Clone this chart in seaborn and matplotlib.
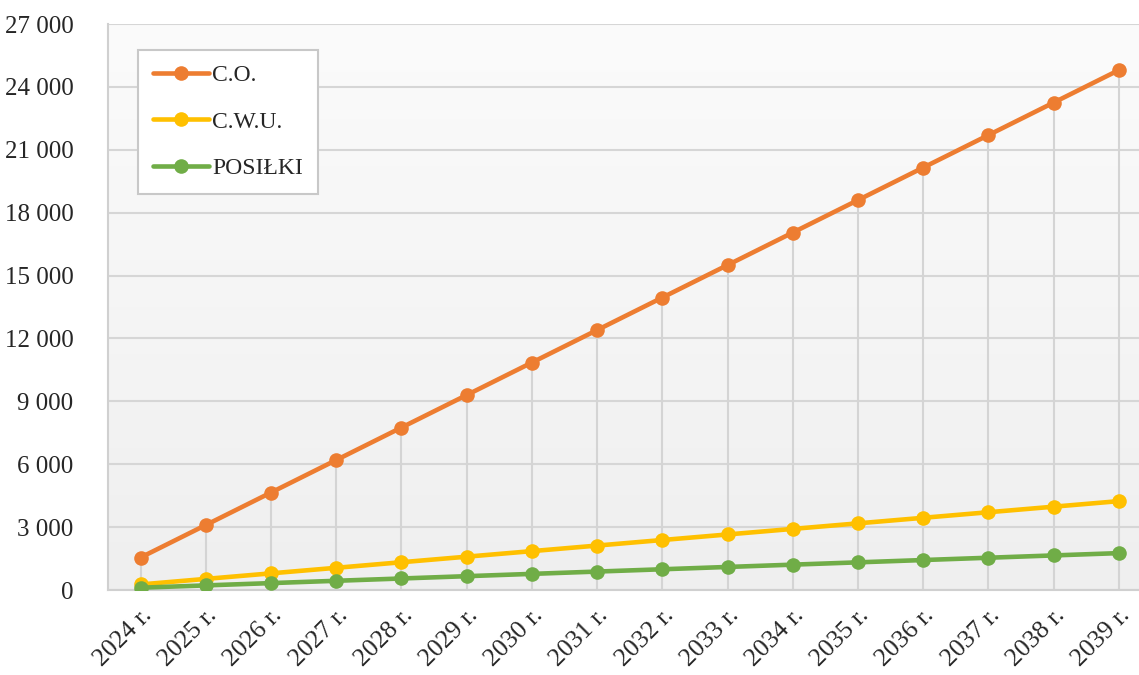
import matplotlib

matplotlib.use("Agg")

import matplotlib.pyplot as plt
import numpy as np
import pandas as pd
import seaborn as sns
from matplotlib.colors import LinearSegmentedColormap
from matplotlib.ticker import FuncFormatter, MultipleLocator

years = ["2024 r.", "2025 r.", "2026 r.", "2027 r.", "2028 r.", "2029 r.", "2030 r.", "2031 r.",
         "2032 r.", "2033 r.", "2034 r.", "2035 r.", "2036 r.", "2037 r.", "2038 r.", "2039 r."]
co = [1550, 3100, 4650, 6200, 7750, 9300, 10850, 12400,
      13950, 15500, 17050, 18600, 20150, 21700, 23250, 24800]
cwu = [265, 530, 795, 1060, 1325, 1590, 1855, 2120,
       2385, 2650, 2915, 3180, 3445, 3710, 3975, 4240]
posilki = [110, 220, 330, 440, 550, 660, 770, 880,
           990, 1100, 1210, 1320, 1430, 1540, 1650, 1760]

series_names = ["C.O.", "C.W.U.", "POSIŁKI"]
colors = ["#ED7D31", "#FFC000", "#70AD47"]

df = pd.DataFrame({
    "pos": list(range(len(years))) * 3,
    "value": co + cwu + posilki,
    "series": [n for n in series_names for _ in years],
})

sns.set_style("white")
plt.rcParams["font.family"] = ["Liberation Serif", "DejaVu Serif"]

fig = plt.figure(figsize=(11.39, 6.75), dpi=100)
ax = fig.add_axes([0.0948, 0.1259, 1 - 0.0948, 0.9644 - 0.1259])

# plot-area background: light gradient, lighter at the top
bg = LinearSegmentedColormap.from_list("bg", ["#efefef", "#fbfbfb"])
ax.imshow(np.linspace(0, 1, 256).reshape(-1, 1)[::-1], cmap=bg, aspect="auto",
          extent=[0, 1, 0, 1], transform=ax.transAxes, zorder=0)

# drop lines from the top series down to the axis
ax.vlines(range(len(years)), 0, co, color="#d4d4d4", lw=1.5, zorder=1)

sns.lineplot(data=df, x="pos", y="value", hue="series", palette=colors,
             marker="o", markersize=10.5, markeredgewidth=0, linewidth=3.3,
             ax=ax, zorder=3)

ax.set_xlim(-0.5, 15.31)
ax.set_ylim(0, 27000)
ax.yaxis.set_major_locator(MultipleLocator(3000))
ax.yaxis.set_major_formatter(FuncFormatter(lambda v, _: f"{int(v):,}".replace(",", " ")))
ax.grid(axis="y", color="#d6d6d6", lw=1.5, zorder=1)
ax.set_axisbelow(True)

ax.set_xticks(range(len(years)))
ax.set_xticklabels(years, rotation=45, ha="right", rotation_mode="anchor")
ax.tick_params(axis="x", length=0, pad=10, labelsize=18.5)
ax.tick_params(axis="y", length=0, pad=25, labelsize=18)
ax.set_xlabel("")
ax.set_ylabel("")

for side in ["top", "right"]:
    ax.spines[side].set_visible(False)
for side in ["left", "bottom"]:
    ax.spines[side].set_color("#d0d0d0")
    ax.spines[side].set_linewidth(1.5)

leg = ax.legend(loc="upper left", bbox_to_anchor=(0.029, 0.954), fontsize=17,
                frameon=True, fancybox=False, handlelength=2.4, labelspacing=1.05,
                borderpad=0.62, handletextpad=0.12, borderaxespad=0)
leg.get_frame().set_edgecolor("#c8c8c8")
leg.get_frame().set_linewidth(1.5)
leg.get_frame().set_facecolor("white")
leg.get_frame().set_alpha(1)

fig.savefig("out.png", dpi=100)
plt.close(fig)
